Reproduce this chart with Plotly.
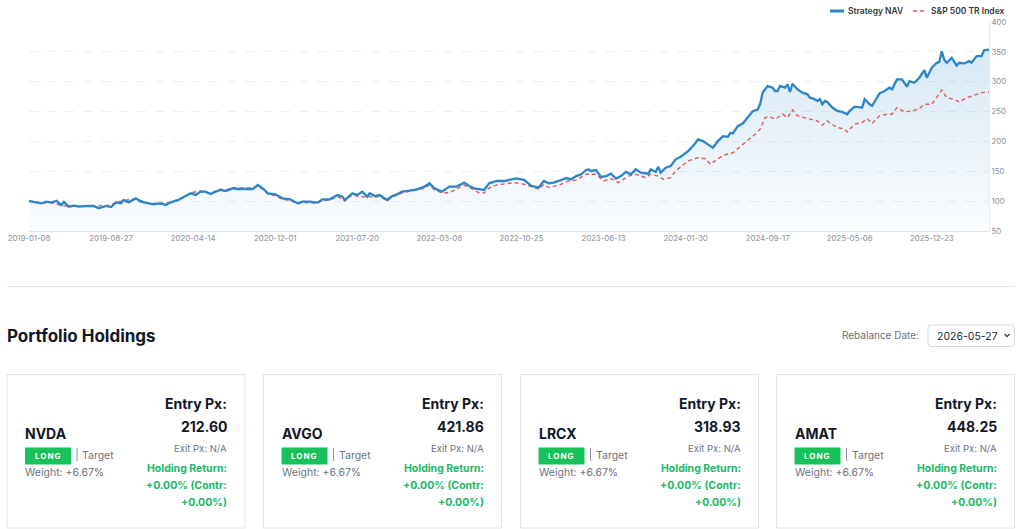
import pandas as pd
import plotly.graph_objects as go

# ---------------- data ----------------
START = "2019-01-08"
nav_weeks = [0, 2, 5, 7, 9, 11, 13, 14, 16, 18, 20, 23, 26, 28, 31, 33, 35, 37, 38, 40, 43, 45, 48, 50, 53, 55, 57, 60,
             62, 65, 67, 69, 71, 73, 75, 77, 79, 82, 84, 87, 90, 92, 94, 96, 99, 102, 105, 108, 110, 113, 116, 118, 121,
             124, 126, 127, 130, 132, 134, 136, 137, 139, 141, 144, 146, 148, 150, 153, 156, 159, 161, 163, 166, 169,
             172, 175, 177, 179, 181, 183, 185, 188, 191, 193, 196, 199, 202, 205, 207, 209, 211, 216, 218, 220, 222,
             224, 225, 226, 228, 230, 232, 234, 236, 238, 240, 242, 244, 246, 249, 250, 252, 253, 254, 256, 258, 260,
             262, 265, 267, 269, 271, 273, 275, 277, 279, 281, 282, 283, 285, 287, 289, 291, 293, 294, 295, 297, 299,
             300, 301, 302, 304, 305, 306, 307, 309, 311, 313, 314, 316, 317, 318, 319, 320, 321, 323, 325, 327, 329,
             330, 332, 335, 336, 338, 339, 342, 344, 346, 347, 349, 351, 353, 354, 356, 358, 360, 361, 363, 365, 366,
             367, 368, 369, 371, 372, 373, 374, 376, 378, 379, 381, 383, 384, 386]
nav_values = [100, 98.6, 96.4, 99.1, 97.5, 100.7, 93.5, 98.6, 90.8, 92.4, 90.8, 91.9, 91.9, 88, 91.9, 90, 98, 96.4,
              101.9, 98, 104.7, 99.1, 96.4, 94.7, 96.4, 93.5, 98, 101.9, 106.4, 113.1, 110.3, 115.9, 115.9, 112, 115.9,
              118.7, 117, 121.5, 120.3, 120.3, 120.3, 127, 121.5, 113.1, 111.4, 104.7, 103, 96.4, 99.1, 99.1, 97.5, 103,
              103, 110.3, 107.5, 101.9, 113.1, 110.3, 115.9, 107.5, 113.1, 108.6, 110.3, 101.9, 108.6, 111.4, 115.9,
              117.5, 119.8, 124.3, 129.9, 121.5, 115.9, 124.3, 124.3, 131, 125.4, 121.5, 120.3, 118.7, 129.9, 133.7,
              133.7, 135.4, 138.2, 135.6, 125.6, 122.8, 133.9, 130, 131, 138.3, 136.7, 142, 145, 152.2, 153, 150.6, 152,
              140.6, 142, 146, 137.8, 142, 149, 145, 153.3, 147.8, 146, 153.3, 148.9, 157.8, 147.8, 156.1, 158.9, 170,
              174.4, 183.9, 192.2, 203.3, 200.6, 195, 189.4, 200.6, 208.9, 207.8, 214.4, 213.3, 225.6, 230, 239.4,
              250.6, 253.3, 263, 282, 292.8, 290, 284.4, 284.4, 292.8, 290, 295.6, 282.8, 296.7, 287, 281.7, 278.9,
              273.3, 270.6, 267.8, 270.6, 262.2, 267.8, 266.1, 256.7, 251.1, 249.4, 245.6, 251.1, 258.3, 256.7, 270.6,
              262.2, 259.4, 280.6, 284.4, 290, 287.2, 303.9, 303.9, 291.7, 301, 298.3, 306.7, 319.4, 306.7, 323.3,
              331.7, 332.8, 351, 337, 331.7, 340, 334.4, 327, 331.7, 330.6, 334.4, 331.7, 342.8, 342.8, 352.8, 353.9]

spx_weeks = [0, 5, 9, 14, 20, 26, 31, 35, 38, 43, 48, 53, 57, 62, 65, 69, 73, 77, 79, 82, 84, 90, 92, 94, 96, 99, 102,
             105, 108, 110, 113, 116, 118, 121, 124, 127, 130, 132, 135, 137, 139, 141, 144, 146, 148, 150, 153, 156,
             159, 161, 163, 166, 169, 172, 175, 177, 179, 181, 183, 185, 188, 191, 193, 195, 199, 203, 205, 207, 209,
             213, 217, 220, 224, 228, 231, 234, 237, 241, 244, 248, 250, 253, 255, 258, 260, 265, 269, 272, 274, 279,
             283, 287, 292, 294, 296, 298, 300, 303, 305, 307, 309, 313, 317, 319, 321, 322, 325, 328, 329, 332, 335,
             337, 339, 342, 345, 347, 349, 352, 355, 358, 360, 363, 365, 367, 369, 372, 374, 377, 379, 383, 386]
spx_values = [101, 97, 97.5, 92, 91.5, 92.5, 92, 97, 101, 104, 97, 95.5, 98.5, 106, 114, 117, 113, 120, 118.5, 122.5,
              122, 122, 125, 120, 112, 109, 103, 101.5, 95.5, 98, 97.5, 96.5, 101.5, 101.5, 108, 100, 111, 108, 107,
              107.5, 106, 108.5, 100, 107, 110, 114, 116.5, 118.5, 122, 127, 119, 114, 114, 120, 127, 123, 119, 114,
              113.5, 122, 127, 129, 130, 131, 128.3, 122.8, 120, 128, 122.8, 126.7, 133.9, 135, 145, 145, 133.9, 137.8,
              131, 142, 145, 139.4, 145, 142, 136.7, 139.4, 150.6, 167.2, 172.8, 171, 161.7, 176.7, 181, 195, 212,
              220.6, 240, 241, 237.2, 245.6, 240, 252.8, 242.8, 238.3, 234.4, 227.2, 234.4, 231, 223.3, 220.6, 216,
              228.9, 231.7, 238.3, 230, 242.8, 245.6, 245.6, 256.7, 249.4, 251, 255, 262.2, 262.2, 273.3, 286, 273.3,
              270.6, 266, 273.3, 276, 281.7, 282.8]

x_tick_labels = ["2019-01-08", "2019-08-27", "2020-04-14", "2020-12-01", "2021-07-20", "2022-03-08",
                 "2022-10-25", "2023-06-13", "2024-01-30", "2024-09-17", "2025-05-06", "2025-12-23"]
y_ticks = [50, 100, 150, 200, 250, 300, 350, 400]
series_names = ["Strategy NAV", "S&P 500 TR Index"]

tickers = ["NVDA", "AVGO", "LRCX", "AMAT"]
entry_px = ["212.60", "421.86", "318.93", "448.25"]
sides = ["LONG", "LONG", "LONG", "LONG"]
weights = ["+6.67%", "+6.67%", "+6.67%", "+6.67%"]
exit_px = ["N/A", "N/A", "N/A", "N/A"]
hold_ret = ["+0.00%", "+0.00%", "+0.00%", "+0.00%"]
contr = ["+0.00%", "+0.00%", "+0.00%", "+0.00%"]
rebalance_date = "2026-05-27"
section_title = "Portfolio Holdings"

# ---------------- helpers ----------------
W, H = 1024, 529
FONT = "Inter"
DARK = "#111827"
GREY = "#6b7280"
GREEN_TXT = "#19b868"
GREEN_BADGE = "#17c25c"
BLUE = "#2a86c8"
RED = "#e25a5a"


def px(x):
    return x / W


def py(y):
    return 1 - y / H


start = pd.Timestamp(START)
nav_dates = [start + pd.Timedelta(days=7 * w) for w in nav_weeks]
spx_dates = [start + pd.Timedelta(days=7 * w) for w in spx_weeks]

fig = go.Figure()

# NAV area (fill only)
fig.add_trace(go.Scatter(
    x=nav_dates, y=nav_values, mode="lines", line=dict(width=0, color=BLUE),
    fill="tozeroy",
    fillgradient=dict(type="vertical",
                      colorscale=[[0, "rgba(42,134,200,0.02)"], [1, "rgba(42,134,200,0.19)"]],
                      start=50, stop=360),
    hoverinfo="skip", showlegend=False))
# benchmark
fig.add_trace(go.Scatter(
    x=spx_dates, y=spx_values, mode="lines", name=series_names[1],
    line=dict(color=RED, width=1.4, dash="4px,3px"), showlegend=False))
# NAV line
fig.add_trace(go.Scatter(
    x=nav_dates, y=nav_values, mode="lines", name=series_names[0],
    line=dict(color=BLUE, width=2.3), showlegend=False))

plot_l, plot_r, plot_t, plot_b = 29, 989, 22, 231

fig.update_layout(
    width=W, height=H, margin=dict(l=0, r=0, t=0, b=0),
    paper_bgcolor="white", plot_bgcolor="white",
    font=dict(family=FONT),
    xaxis=dict(domain=[px(plot_l), px(plot_r)], type="date",
               range=[start, start + pd.Timedelta(days=7 * 386)],
               tickvals=x_tick_labels, ticktext=x_tick_labels,
               showgrid=False, showline=True, linecolor="#dfe3e8", linewidth=1,
               ticks="", zeroline=False, automargin=False,
               tickfont=dict(size=7.8, color="#8a909a", family=FONT)),
    yaxis=dict(domain=[py(plot_b), py(plot_t)], range=[50, 400], side="right",
               tickvals=y_ticks, showgrid=True, gridcolor="#eceff3", griddash="dash",
               showline=True, linecolor="#e6e9ee", linewidth=1, zeroline=False,
               ticks="", automargin=False,
               tickfont=dict(size=7.8, color="#8a909a", family=FONT)),
)

shapes = []
ann = []

# legend (manual, top-right)
shapes.append(dict(type="line", xref="paper", yref="paper", x0=px(830), x1=px(844), y0=py(11), y1=py(11),
                   line=dict(color=BLUE, width=3)))
ann.append(dict(x=px(846), y=py(11), text=series_names[0], xanchor="left", yanchor="middle",
                font=dict(size=8.5, color="#333840", family=FONT, weight=600)))
shapes.append(dict(type="line", xref="paper", yref="paper", x0=px(913), x1=px(927), y0=py(11), y1=py(11),
                   line=dict(color=RED, width=1.6, dash="4px,3px")))
ann.append(dict(x=px(929), y=py(11), text=series_names[1], xanchor="left", yanchor="middle",
                font=dict(size=8.5, color="#333840", family=FONT, weight=600)))

# separator
shapes.append(dict(type="line", xref="paper", yref="paper", x0=px(7), x1=px(1015), y0=py(286.5), y1=py(286.5),
                   line=dict(color="#e5e8ec", width=1)))

# section title
ann.append(dict(x=px(5), y=py(336), text=section_title, xanchor="left", yanchor="middle",
                font=dict(size=17, color=DARK, family=FONT, weight=700)))

# rebalance selector
ann.append(dict(x=px(921), y=py(335), text="Rebalance Date:", xanchor="right", yanchor="middle",
                font=dict(size=10, color=GREY, family=FONT)))
sx0, sx1, sy0, sy1, r = 928, 1014.5, 325, 346.5, 3
path = (f"M {px(sx0 + r)},{py(sy0)} L {px(sx1 - r)},{py(sy0)} Q {px(sx1)},{py(sy0)} {px(sx1)},{py(sy0 + r)} "
        f"L {px(sx1)},{py(sy1 - r)} Q {px(sx1)},{py(sy1)} {px(sx1 - r)},{py(sy1)} "
        f"L {px(sx0 + r)},{py(sy1)} Q {px(sx0)},{py(sy1)} {px(sx0)},{py(sy1 - r)} "
        f"L {px(sx0)},{py(sy0 + r)} Q {px(sx0)},{py(sy0)} {px(sx0 + r)},{py(sy0)} Z")
shapes.append(dict(type="path", xref="paper", yref="paper", path=path, fillcolor="white",
                   line=dict(color="#d4d8de", width=1)))
ann.append(dict(x=px(935), y=py(336), text=rebalance_date, xanchor="left", yanchor="middle",
                font=dict(size=10.5, color="#1f2937", family=FONT)))
shapes.append(dict(type="path", xref="paper", yref="paper",
                   path=f"M {px(1004.5)},{py(334)} L {px(1007)},{py(336.5)} L {px(1009.5)},{py(334)}",
                   line=dict(color="#374151", width=1.3)))

# cards
card_lefts = [7, 263.5, 520.5, 776.5]
card_w = 238
for i, cl in enumerate(card_lefts):
    cr = cl + card_w
    shapes.append(dict(type="rect", xref="paper", yref="paper", x0=px(cl), x1=px(cr), y0=py(374.5), y1=py(528),
                       line=dict(color="#e3e6ea", width=1), fillcolor="white", layer="below"))
    lx = cl + 18
    rx = cr - 18
    ann.append(dict(x=px(lx - 2), y=py(433), text=tickers[i], xanchor="left", yanchor="middle",
                    font=dict(size=14, color=DARK, family=FONT, weight=700)))
    shapes.append(dict(type="rect", xref="paper", yref="paper", x0=px(lx), x1=px(lx + 46), y0=py(447.5),
                       y1=py(464.5), line=dict(width=0), fillcolor=GREEN_BADGE))
    ann.append(dict(x=px(lx + 23), y=py(456), text=f'<span style="letter-spacing:1px">{sides[i]}</span>',
                    xanchor="center", yanchor="middle",
                    font=dict(size=8, color="white", family=FONT, weight=700)))
    shapes.append(dict(type="line", xref="paper", yref="paper", x0=px(lx + 52), x1=px(lx + 52), y0=py(448),
                       y1=py(461), line=dict(color="#8b919b", width=1)))
    ann.append(dict(x=px(lx + 55), y=py(455.5), text="Target", xanchor="left", yanchor="middle",
                    font=dict(size=10.5, color=GREY, family=FONT)))
    ann.append(dict(x=px(lx - 2), y=py(472), text=f"Weight: {weights[i]}", xanchor="left", yanchor="middle",
                    font=dict(size=10.5, color=GREY, family=FONT)))
    ann.append(dict(x=px(rx + 2), y=py(403), text="Entry Px:", xanchor="right", yanchor="middle",
                    font=dict(size=14, color=DARK, family=FONT, weight=700)))
    ann.append(dict(x=px(rx + 2), y=py(426), text=entry_px[i], xanchor="right", yanchor="middle",
                    font=dict(size=14, color=DARK, family=FONT, weight=700)))
    ann.append(dict(x=px(rx + 2), y=py(448), text=f"Exit Px: {exit_px[i]}", xanchor="right", yanchor="middle",
                    font=dict(size=9.5, color=GREY, family=FONT)))
    ann.append(dict(x=px(rx + 2), y=py(468.5), text="Holding Return:", xanchor="right", yanchor="middle",
                    font=dict(size=10.5, color=GREEN_TXT, family=FONT, weight=700)))
    ann.append(dict(x=px(rx + 2), y=py(485.5), text=f"{hold_ret[i]} (Contr:", xanchor="right", yanchor="middle",
                    font=dict(size=10.5, color=GREEN_TXT, family=FONT, weight=700)))
    ann.append(dict(x=px(rx + 2), y=py(502.5), text=f"{contr[i]})", xanchor="right", yanchor="middle",
                    font=dict(size=10.5, color=GREEN_TXT, family=FONT, weight=700)))

for a in ann:
    a.update(xref="paper", yref="paper", showarrow=False)

fig.update_layout(shapes=shapes, annotations=ann)
fig.write_html("out.html")
